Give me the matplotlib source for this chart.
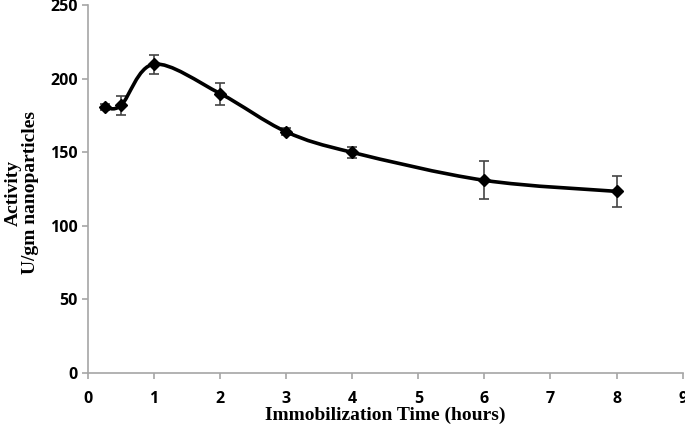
import numpy as np
import matplotlib
matplotlib.use('Agg')
from matplotlib import pyplot as plt
from matplotlib.path import Path
from matplotlib.patches import PathPatch

# данные
hours = [0.25, 0.5, 1, 2, 3, 4, 6, 8]
activity = [181, 182, 210, 190, 164, 150, 131, 123.5]
err = [2, 6.5, 6.5, 7.5, 2.5, 4, 13, 10.5]
xticks = [0, 1, 2, 3, 4, 5, 6, 7, 8, 9]
yticks = [0, 50, 100, 150, 200, 250]

fig = plt.figure(figsize=(6.85, 4.3), dpi=100)
ax = fig.add_axes([0.1285, 0.1326, 0.868, 0.855])


def smooth_path(x, y, t=0.5):
    # сглаженная линия как в Excel (кривые Безье)
    pts = np.column_stack([x, y])
    verts = [pts[0]]
    codes = [Path.MOVETO]
    n = len(pts)
    for i in range(n - 1):
        p0 = pts[i - 1] if i > 0 else pts[i]
        p1 = pts[i]
        p2 = pts[i + 1]
        p3 = pts[i + 2] if i + 2 < n else pts[i + 1]
        c1 = p1 + (p2 - p0) * t / 3
        c2 = p2 - (p3 - p1) * t / 3
        verts += [c1, c2, p2]
        codes += [Path.CURVE4] * 3
    return Path(verts, codes)


ax.add_patch(PathPatch(smooth_path(hours, activity), fill=False, lw=2.6, color='black', zorder=3))
ax.errorbar(hours, activity, yerr=err, fmt='none', ecolor='#444444', elinewidth=1.2,
            capsize=3.5, capthick=1.2, zorder=2)
ax.plot(hours, activity, linestyle='none', marker='D', markersize=6, color='black', zorder=4)

ax.set_xlim(0, 9)
ax.set_ylim(0, 250)
ax.set_xticks(xticks)
ax.set_yticks(yticks)

for s in ['top', 'right']:
    ax.spines[s].set_visible(False)
for s in ['left', 'bottom']:
    ax.spines[s].set_color('#a6a6a6')
    ax.spines[s].set_linewidth(1.2)
ax.tick_params(direction='out', length=4, width=1.2, color='#a6a6a6', labelsize=11.5)
ax.tick_params(axis='x', pad=9)
for lab in ax.get_xticklabels() + ax.get_yticklabels():
    lab.set_fontfamily('Open Sans')
    lab.set_fontweight('bold')

ax.set_xlabel('Immobilization Time (hours)', fontfamily='Liberation Serif',
              fontweight='bold', fontsize=14, labelpad=0)
ax.set_ylabel('Activity\nU/gm nanoparticles', fontfamily='Liberation Serif',
              fontweight='bold', fontsize=14, linespacing=1.0)
ax.yaxis.set_label_coords(-0.083, 0.49)

fig.savefig('out.png', dpi=100)
